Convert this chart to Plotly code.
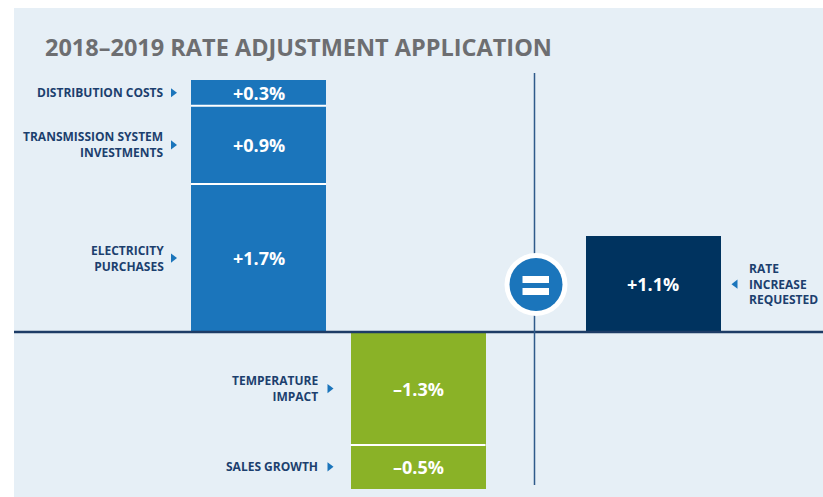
import plotly.graph_objects as go
import numpy as np

# ---------------- data ----------------
increase_labels = ["ELECTRICITY<br>PURCHASES", "TRANSMISSION SYSTEM<br>INVESTMENTS", "DISTRIBUTION COSTS"]
increase_values = [1.7, 0.9, 0.3]
increase_text = ["+1.7%", "+0.9%", "+0.3%"]

decrease_labels = ["TEMPERATURE<br>IMPACT", "SALES GROWTH"]
decrease_values = [-1.3, -0.5]
decrease_text = ["\u20131.3%", "\u20130.5%"]

result_label = "RATE<br>INCREASE<br>REQUESTED"
result_value = [1.1]
result_text = ["+1.1%"]

title_text = "2018\u20132019 RATE ADJUSTMENT APPLICATION"

# ---------------- layout constants ----------------
W, H = 823, 497
BASE_PX = 332          # pixel row of zero line
PX_PER_PCT = 87.0
GROUP_X = {"increase": 258.5, "decrease": 418.0, "result": 653.0}
BAR_W = 135

BLUE = "#1b75bb"
GREEN = "#8ab227"
NAVY = "#00335f"
LABEL = "#1c3f6e"
PANEL = "#e6eff6"
TITLE = "#6d6e71"
FONT = "Open Sans"

def px2y(py):
    return (BASE_PX - py) / PX_PER_PCT

def xp(px):
    return px / W

def yp(py):
    return 1 - py / H

fig = go.Figure()

for v in increase_values:
    fig.add_trace(go.Bar(x=[GROUP_X["increase"]], y=[v], width=BAR_W,
                         marker=dict(color=BLUE, line=dict(width=0)),
                         hoverinfo="skip", showlegend=False))
for v in decrease_values:
    fig.add_trace(go.Bar(x=[GROUP_X["decrease"]], y=[v], width=BAR_W,
                         marker=dict(color=GREEN, line=dict(width=0)),
                         hoverinfo="skip", showlegend=False))
fig.add_trace(go.Bar(x=[GROUP_X["result"]], y=result_value, width=BAR_W,
                     marker=dict(color=NAVY, line=dict(width=0)),
                     hoverinfo="skip", showlegend=False))

shapes = []
# panel background
shapes.append(dict(type="rect", xref="paper", yref="paper", x0=xp(14), x1=1, y0=0, y1=yp(8),
                   fillcolor=PANEL, line=dict(width=0), layer="below"))

annotations = []

def stack_group(values, texts, labels, key, side, lab_off, tri_off):
    cx = GROUP_X[key]
    edges = np.concatenate([[0], np.cumsum(values)])
    tri_x, tri_y = [], []
    for i, (v, t, lab) in enumerate(zip(values, texts, labels)):
        mid = (edges[i] + edges[i + 1]) / 2
        annotations.append(dict(x=cx, y=mid, xref="x", yref="y", text="<b>%s</b>" % t,
                                showarrow=False, font=dict(family=FONT, size=18, color="white")))
        if side == "left":
            ex = cx - BAR_W / 2
            annotations.append(dict(x=ex - lab_off, y=mid, xref="x", yref="y", text="<b>%s</b>" % lab,
                                    showarrow=False, xanchor="right", align="right",
                                    font=dict(family=FONT, size=12, color=LABEL)))
            tri_x.append(ex - tri_off)
        else:
            ex = cx + BAR_W / 2
            annotations.append(dict(x=ex + lab_off, y=mid, xref="x", yref="y", text="<b>%s</b>" % lab,
                                    showarrow=False, xanchor="left", align="left",
                                    font=dict(family=FONT, size=12, color=LABEL)))
            tri_x.append(ex + tri_off)
        tri_y.append(mid)
        if 0 < i:
            shapes.append(dict(type="line", xref="x", yref="y", x0=cx - BAR_W / 2, x1=cx + BAR_W / 2,
                               y0=edges[i], y1=edges[i], line=dict(color="white", width=2)))
    fig.add_trace(go.Scatter(x=tri_x, y=tri_y, mode="markers", hoverinfo="skip", showlegend=False,
                             marker=dict(symbol="triangle-right" if side == "left" else "triangle-left",
                                         size=8, color=BLUE)))

stack_group(increase_values, increase_text, increase_labels, "increase", "left", 25, 18)
stack_group(decrease_values, decrease_text, decrease_labels, "decrease", "left", 31, 21)
stack_group(result_value, result_text, [result_label], "result", "right", 26, 15)

# zero line
shapes.append(dict(type="line", xref="paper", yref="y", x0=xp(14), x1=1, y0=0, y1=0,
                   line=dict(color="#1d3c66", width=2.5), layer="above"))
# vertical divider
shapes.append(dict(type="line", xref="x", yref="y", x0=534.5, x1=534.5, y0=px2y(485), y1=px2y(73),
                   line=dict(color="#2f5a8a", width=1.5)))
# equals circle
cxp, cyp = 536, 284.5
for r, col in [(31.5, "white"), (26.5, BLUE)]:
    shapes.append(dict(type="circle", xref="paper", yref="paper",
                       x0=xp(cxp - r), x1=xp(cxp + r), y0=yp(cyp + r), y1=yp(cyp - r),
                       fillcolor=col, line=dict(width=0), layer="above"))
for y0, y1 in [(276, 283), (288, 295)]:
    shapes.append(dict(type="rect", xref="paper", yref="paper",
                       x0=xp(522.5), x1=xp(549), y0=yp(y1), y1=yp(y0),
                       fillcolor="white", line=dict(width=0), layer="above"))

annotations.append(dict(x=xp(43), y=yp(47), xref="paper", yref="paper", xanchor="left", yanchor="middle",
                        text="<b>%s</b>" % title_text, showarrow=False,
                        font=dict(family=FONT, size=23.5, color=TITLE)))

fig.update_layout(
    width=W, height=H, margin=dict(l=0, r=0, t=0, b=0),
    paper_bgcolor="white", plot_bgcolor="rgba(0,0,0,0)",
    barmode="relative", bargap=0,
    xaxis=dict(range=[0, W], visible=False, fixedrange=True),
    yaxis=dict(range=[px2y(H), px2y(0)], visible=False, fixedrange=True),
    shapes=shapes, annotations=annotations,
)

fig.write_html("out.html", config={"displayModeBar": False},
               post_script="document.body.style.margin='0';document.body.style.overflow='hidden';")
